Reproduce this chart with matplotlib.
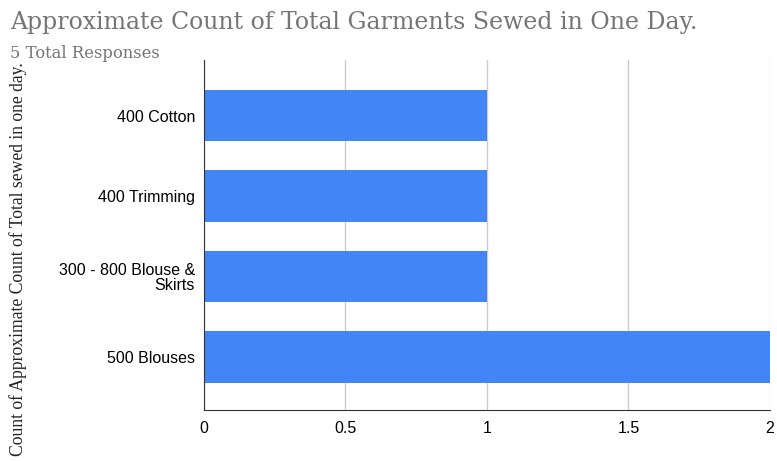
import matplotlib
matplotlib.use("Agg")
import matplotlib.pyplot as plt

categories = ["400 Cotton", "400 Trimming", "300 - 800 Blouse &\nSkirts", "500 Blouses"]
counts = [1, 1, 1, 2]
x_ticks = [0, 0.5, 1, 1.5, 2]
x_tick_labels = ["0", "0.5", "1", "1.5", "2"]

title = "Approximate Count of Total Garments Sewed in One Day."
subtitle = "5 Total Responses"
y_label = "Count of Approximate Count of Total sewed in one day."

fig = plt.figure(figsize=(7.77, 4.61), dpi=100)
ax = fig.add_axes([204 / 777, 51 / 461, 566 / 777, 350 / 461])

# categories listed top to bottom
n = len(categories)
ypos = [n - 1 - i for i in range(n)]
ax.barh(ypos, counts, height=0.64, color="#4285F4", zorder=3)

ax.set_xlim(0, 2)
ax.set_ylim(-0.66, 3.69)
ax.set_xticks(x_ticks)
ax.set_xticklabels(x_tick_labels, family="Liberation Sans", fontsize=11.5)
ax.set_yticks(ypos)
ax.set_yticklabels(categories, family="Liberation Sans", fontsize=11.5,
                   linespacing=1.0)
ax.tick_params(length=0)
ax.tick_params(axis="y", pad=6.5)
ax.tick_params(axis="x", pad=8)

ax.grid(axis="x", color="#cccccc", linewidth=1, zorder=0)
for side in ["top", "right"]:
    ax.spines[side].set_visible(False)
ax.spines["left"].set_color("#333333")
ax.spines["bottom"].set_color("#333333")
ax.spines["left"].set_zorder(4)

fig.text(10 / 777, 1 - 22 / 461, title, family="DejaVu Serif", fontsize=17,
         color="#757575", va="center", ha="left")
fig.text(10 / 777, 1 - 54 / 461, subtitle, family="DejaVu Serif", fontsize=11.8,
         color="#757575", va="center", ha="left")
fig.text(18 / 777, 1 - 259 / 461, y_label, family="Liberation Serif", fontsize=12.7,
         color="#222222", va="center", ha="center", rotation=90)

fig.savefig("out.png", dpi=100)
